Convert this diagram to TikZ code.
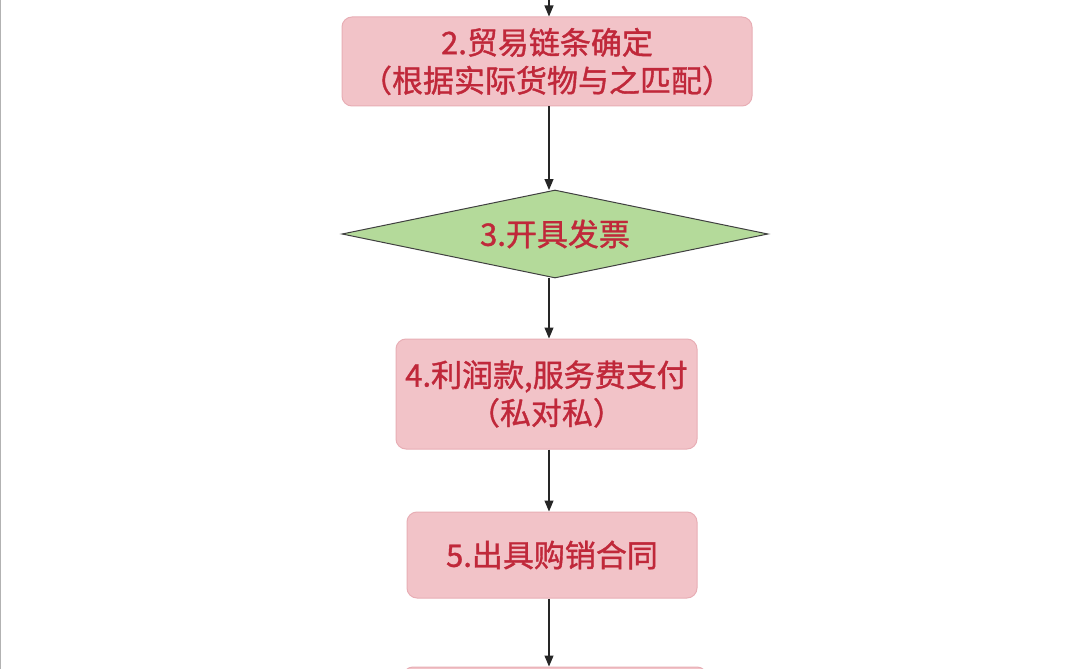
\documentclass[tikz,border=0pt]{standalone}
\usepackage{fontspec}
\newfontfamily\cjk[FakeBold=1.2]{Noto Sans CJK SC}
\usetikzlibrary{shapes.geometric,arrows.meta}
\definecolor{boxfill}{HTML}{F2C3C8}
\definecolor{boxline}{HTML}{E8AEB5}
\definecolor{txt}{HTML}{C0283A}
\definecolor{dfill}{HTML}{B4DA9A}
\tikzset{
 box/.style={draw=boxline,fill=boxfill,rounded corners=10pt,line width=1pt,text=txt,font=\cjk\fontsize{31}{38}\selectfont,align=center,inner sep=0pt},
 dia/.style={diamond,draw=black!75,fill=dfill,line width=1pt,text=txt,font=\cjk\fontsize{31}{38}\selectfont,aspect=4.85,inner sep=0pt,minimum width=426pt,minimum height=88pt},
 arr/.style={-{Triangle[length=11pt,width=9pt]},line width=1.2pt,black!85}
}
\begin{document}
\begin{tikzpicture}[x=1pt,y=-1pt]
\useasboundingbox (0,0) rectangle (1080,669);
\clip (0,0) rectangle (1080,669);
\fill[white] (0,0) rectangle (1080,669);
\draw[gray!60,line width=1pt] (0.5,0) -- (0.5,669);
\coordinate (top) at (549,0);
\node[box,minimum width=410pt,minimum height=89pt] (b2) at (547,61.5) {2.贸易链条确定\\（根据实际货物与之匹配）};
\node[dia] (d3) at (555,234) {3.开具发票};
\node[box,minimum width=301pt,minimum height=110pt] (b4) at (546.5,394) {4.利润款,服务费支付\\（私对私）};
\node[box,minimum width=290pt,minimum height=86pt] (b5) at (552,555) {5.出具购销合同};
\node[box,minimum width=304pt,minimum height=86pt] (b6) at (555,710) {};
\draw[arr] (top) -- (b2.north -| top);
\draw[arr] (b2.south -| top) -- (549,190);
\draw[arr] (549,278) -- (b4.north -| top);
\draw[arr] (b4.south -| top) -- (b5.north -| top);
\draw[arr] (b5.south -| top) -- (b6.north -| top);
\end{tikzpicture}
\end{document}
